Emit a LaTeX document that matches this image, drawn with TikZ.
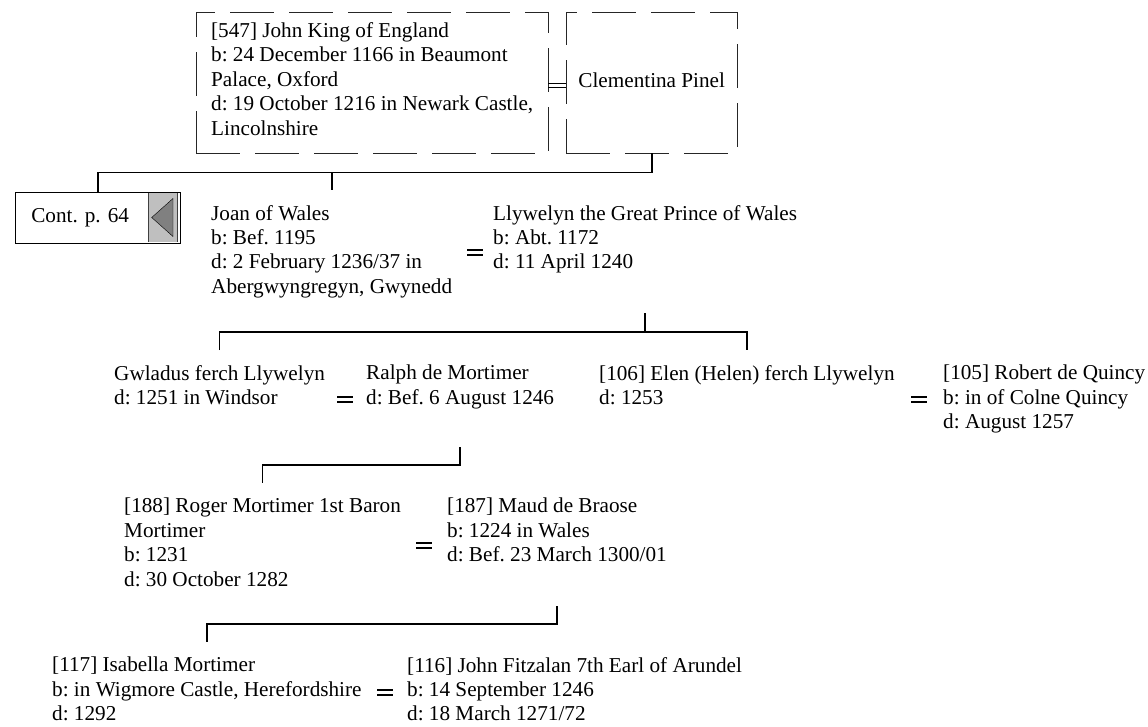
\documentclass[tikz,border=0pt]{standalone}
\usepackage{fontspec}
\setmainfont{Liberation Serif}
\usetikzlibrary{positioning}

\begin{document}
\frenchspacing
\begin{tikzpicture}[x=1pt, y=-1pt,
  every node/.style={font=\fontsize{21.2}{24.4}\selectfont},
  person/.style={anchor=north west, inner sep=0pt, align=left, execute at begin node=\strut},
  dashbox/.style={draw=black!85, thin, dash pattern=on 44pt off 15pt, anchor=north west,
                  minimum height=140.7pt, inner sep=0pt, align=left,
                  execute at begin node=\strut, execute at end node=\strut},
  tree/.style={line width=1.6pt}]

\useasboundingbox (0,0) rectangle (1148,727);

% --- Parents ---
\node [dashbox, minimum width=352pt] (john) at (196,12)
  {[547] John King of England\\
   b: 24 December 1166 in Beaumont\\
   Palace, Oxford\\
   d: 19 October 1216 in Newark Castle,\\
   Lincolnshire};
\node [dashbox, minimum width=171pt] (clementina) at (566,12) {Clementina Pinel};

\draw [thin] ([yshift=-1pt]john.east) -- ([yshift=-1pt]clementina.west);
\draw [thin] ([yshift=-5pt]john.east) -- ([yshift=-5pt]clementina.west);

% --- Continuation box ---
\node [draw, line width=1.2pt, anchor=north west, minimum height=51pt,
       inner xsep=15.7pt, inner ysep=0pt, text width=133.6pt, align=left] (cont) at (15,192)
  {Cont. p. 64};
\fill [gray!50] (148,193) rectangle (178,242);
\draw [black!75] (148,193) -- (148,242);
\draw [black!75] (177,193) -- (177,242);
\filldraw [fill=gray, draw=black] (173,198.5) -- (151.7,217.5) -- (173,236.5) -- cycle;

% --- Generation 1 ---
\node [person] (joan) at (211,204.9)
  {Joan of Wales\\ b: Bef. 1195\\ d: 2 February 1236/37 in\\ Abergwyngregyn, Gwynedd};
\node [person] (llywelyn) at (493,204.9)
  {Llywelyn the Great Prince of Wales\\ b: Abt. 1172\\ d: 11 April 1240};

% --- Generation 2 ---
\node [person] (gwladus) at (114,364.9) {Gwladus ferch Llywelyn\\ d: 1251 in Windsor};
\node [person] (ralph) at (366,364.9) {Ralph de Mortimer\\ d: Bef. 6 August 1246};
\node [person] (elen) at (599,364.9) {[106] Elen (Helen) ferch Llywelyn\\ d: 1253};
\node [person] (robert) at (943,364.9)
  {[105] Robert de Quincy\\ b: in of Colne Quincy\\ d: August 1257};

% --- Generation 3 ---
\node [person] (roger) at (124,497.9)
  {[188] Roger Mortimer 1st Baron\\ Mortimer\\ b: 1231\\ d: 30 October 1282};
\node [person] (maud) at (447,497.9)
  {[187] Maud de Braose\\ b: 1224 in Wales\\ d: Bef. 23 March 1300/01};

% --- Generation 4 ---
\node [person] (isabella) at (52,656.9)
  {[117] Isabella Mortimer\\ b: in Wigmore Castle, Herefordshire\\ d: 1292};
\node [person] (fitzalan) at (407,656.9)
  {[116] John Fitzalan 7th Earl of Arundel\\ b: 14 September 1246\\ d: 18 March 1271/72};

% marriage marks
\foreach \x/\y in {475/252.6, 345/399.4, 919/399.4, 424/545.6, 385/692.4} {
  \draw [tree] (\x-8,\y-2.5) -- (\x+8,\y-2.5);
  \draw [tree] (\x-8,\y+2.5) -- (\x+8,\y+2.5);
}

% --- Descent lines ---
\draw [tree] (clementina.south) -- (clementina.south |- 0,172.5) -| (cont.north);
\draw [tree] (joan.north |- 0,172.5) -- (joan.north |- 0,190);

\draw [tree] (llywelyn.south |- 0,313) -- (llywelyn.south |- 0,332);
\draw [tree] (gwladus.north |- 0,350) |- (elen.north |- 0,332) -- (elen.north |- 0,350);

\draw [tree] (ralph.south |- 0,447) -- (ralph.south |- 0,465) -| (roger.north |- 0,483);

\draw [tree] (maud.south |- 0,606) -- (maud.south |- 0,624) -| (isabella.north |- 0,642);

\end{tikzpicture}
\end{document}
